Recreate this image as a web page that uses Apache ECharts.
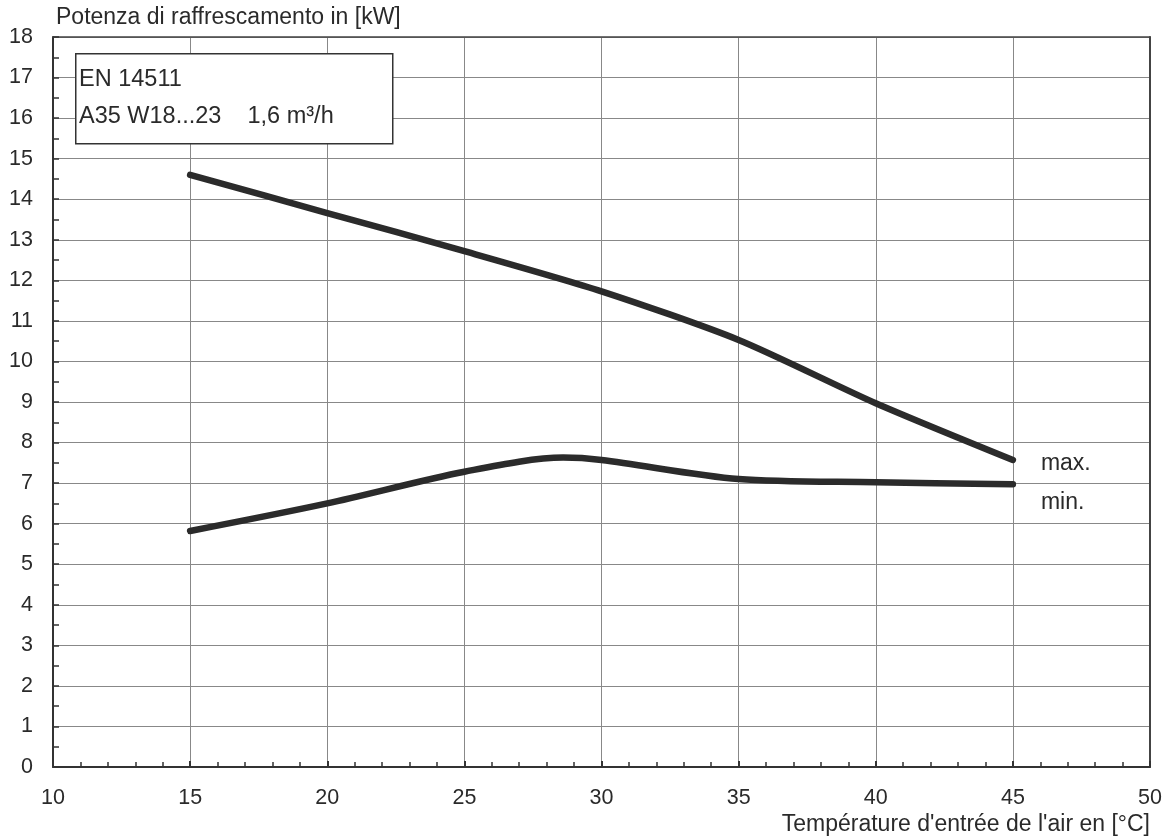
<!DOCTYPE html>
<html><head><meta charset="utf-8">
<script src="https://cdn.jsdelivr.net/npm/echarts@6/dist/echarts.min.js"></script>
<style>html,body{margin:0;padding:0;background:#fff}#c{width:1165px;height:839px}</style>
</head><body><div id="c"></div>
<script>
const xMaxData = [15, 20, 25, 30, 35, 40, 45];
const maxValues = [14.6, 13.66, 12.72, 11.73, 10.53, 8.97, 7.57];
const xMinData = [15, 20, 25, 28.6, 30, 35, 40, 45];
const minValues = [5.82, 6.5, 7.28, 7.63, 7.57, 7.1, 7.02, 6.97];
const yAxisName = 'Potenza di raffrescamento in [kW]';
const xAxisName = "Température d'entrée de l'air en [°C]";
const boxLines = ['EN 14511', 'A35 W18...23    1,6 m³/h'];
const seriesNames = ['max.', 'min.'];

const FONT = 'Liberation Sans, Arial, sans-serif';
const TXT = '#2a2a2a';
const chart = echarts.init(document.getElementById('c'));
const lineStyle = {color: '#2b2b2b', width: 6.5, cap: 'round', join: 'round'};
chart.setOption({
  animation: false,
  backgroundColor: '#fff',
  grid: {left: 53, right: 15, top: 37, bottom: 72, containLabel: false},
  xAxis: [{
    type: 'value', min: 10, max: 50, interval: 5,
    axisLine: {show: true, lineStyle: {color: '#333', width: 2}},
    axisTick: {show: true, inside: true, length: 6, lineStyle: {color: '#333', width: 2}},
    minorTick: {show: true, splitNumber: 5, length: 5, lineStyle: {color: '#333', width: 1.5}},
    axisLabel: {color: TXT, fontSize: 21.5, fontFamily: FONT, margin: 20},
    splitLine: {show: true, lineStyle: {color: '#888', width: 1}},
    name: xAxisName, nameLocation: 'end', nameGap: 0,
    nameTextStyle: {color: TXT, fontSize: 23, fontFamily: FONT, align: 'right', verticalAlign: 'top', padding: [46, 0, 0, 0]}
  }, {
    type: 'value', position: 'top', min: 10, max: 50, interval: 5,
    axisLine: {show: true, onZero: false, lineStyle: {color: '#444', width: 1.5}},
    axisTick: {show: false}, axisLabel: {show: false}, splitLine: {show: false}
  }],
  yAxis: [{
    type: 'value', min: 0, max: 18, interval: 1,
    axisLine: {show: true, lineStyle: {color: '#333', width: 2}},
    axisTick: {show: true, inside: true, length: 6, lineStyle: {color: '#333', width: 1.5}},
    minorTick: {show: true, splitNumber: 2, length: 6, lineStyle: {color: '#333', width: 1.5}},
    axisLabel: {color: TXT, fontSize: 21.5, fontFamily: FONT, margin: 20},
    splitLine: {show: true, lineStyle: {color: '#888', width: 1}},
    name: yAxisName, nameLocation: 'end', nameGap: 8,
    nameTextStyle: {color: TXT, fontSize: 23, fontFamily: FONT, align: 'left', padding: [0, 0, 0, 3]}
  }, {
    type: 'value', position: 'right', min: 0, max: 18, interval: 1,
    axisLine: {show: true, onZero: false, lineStyle: {color: '#444', width: 2}},
    axisTick: {show: false}, axisLabel: {show: false}, splitLine: {show: false}
  }],
  series: [{
    name: seriesNames[0], type: 'line', smooth: 0.25, symbol: 'none',
    data: xMaxData.map((x, i) => [x, maxValues[i]]), lineStyle,
    endLabel: {show: true, formatter: seriesNames[0], color: TXT, fontSize: 23, fontFamily: FONT, distance: 28, offset: [0, 4]}
  }, {
    name: seriesNames[1], type: 'line', smooth: 0.3, symbol: 'none',
    data: xMinData.map((x, i) => [x, minValues[i]]), lineStyle,
    endLabel: {show: true, formatter: seriesNames[1], color: TXT, fontSize: 23, fontFamily: FONT, distance: 28, offset: [0, 18]}
  }],
  graphic: [{
    type: 'rect', left: 75, top: 53, shape: {width: 317, height: 90},
    style: {fill: '#fff', stroke: '#333', lineWidth: 1.5}, z: 100
  }, {
    type: 'text', left: 79, top: 68, z: 101,
    style: {text: boxLines[0], fill: TXT, font: '23.5px ' + FONT}
  }, {
    type: 'text', left: 79, top: 105, z: 101,
    style: {text: boxLines[1], fill: TXT, font: '23.5px ' + FONT}
  }]
});
</script></body></html>
